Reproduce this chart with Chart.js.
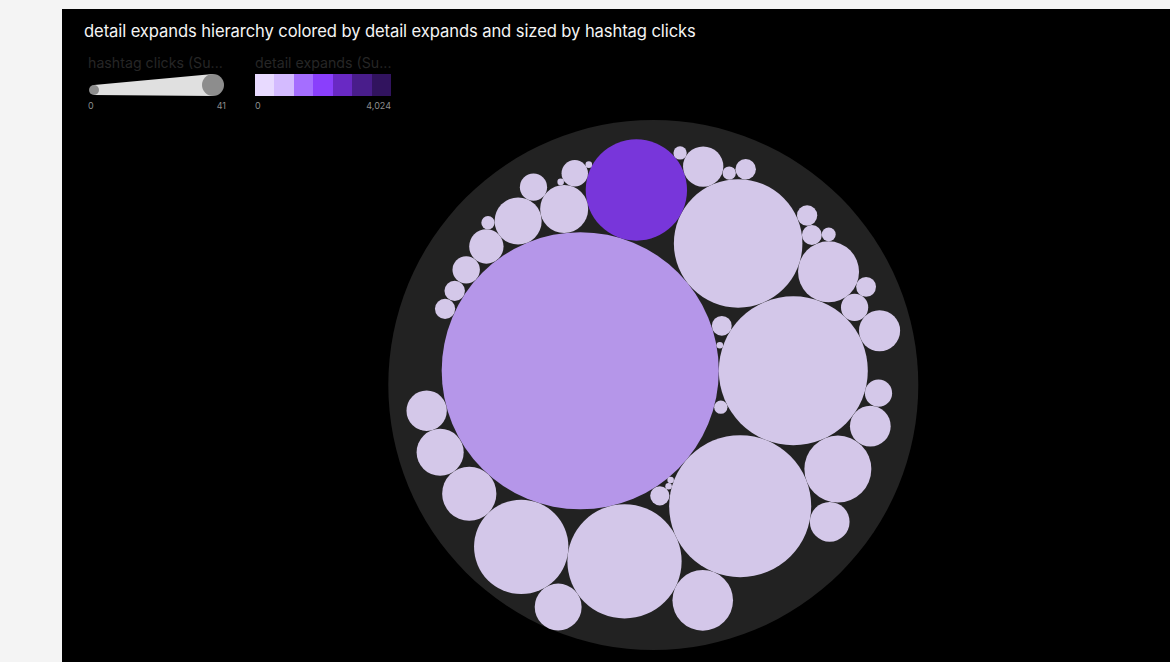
<!DOCTYPE html>
<html>
<head>
<meta charset="utf-8">
<script src="https://cdn.jsdelivr.net/npm/chart.js"></script>
<style>
  html, body { margin: 0; padding: 0; background: #f4f4f4; width: 1170px; height: 662px; overflow: hidden; }
  #panel { position: absolute; left: 62px; top: 9px; width: 1108px; height: 653px; background: #000; }
  #title { position: absolute; left: 84px; top: 21px; font-family: Inter, "Noto Sans", sans-serif; font-size: 16.6px; color: #f4f4f4; white-space: nowrap; letter-spacing: -0.1px; }
  .lgTitle { position: absolute; top: 54px; font-family: Inter, "Noto Sans", sans-serif; font-size: 14.2px; color: #262626; white-space: nowrap; }
  .tick { position: absolute; top: 100px; font-family: Inter, "Noto Sans", sans-serif; font-size: 9px; color: #8d8d8d; white-space: nowrap; }
  #swatches { position: absolute; left: 255px; top: 74px; width: 136px; height: 22px; display: flex; }
  #swatches div { flex: 1; height: 100%; }
  #sizeLegend { position: absolute; left: 86px; top: 70px; }
  #chartBox { position: absolute; left: 0; top: 0; width: 1170px; height: 662px; }
  #err { position: absolute; left: 70px; top: 600px; color: #f33; font: 11px monospace; }
</style>
</head>
<body>
<div id="panel"></div>
<div id="title">detail expands hierarchy colored by detail expands and sized by hashtag clicks</div>
<div class="lgTitle" id="sizeTitle" style="left:88px"></div>
<div class="lgTitle" id="colorTitle" style="left:255px"></div>
<svg id="sizeLegend" width="142" height="30"></svg>
<div class="tick" id="sizeMin" style="left:88px"></div>
<div class="tick" id="sizeMax" style="left:186px;width:40px;text-align:right"></div>
<div id="swatches"></div>
<div class="tick" id="colorMin" style="left:255px"></div>
<div class="tick" id="colorMax" style="left:331px;width:60px;text-align:right"></div>
<div id="chartBox"><canvas id="chart" width="1170" height="662"></canvas></div>
<div id="err"></div>
<script>
window.onerror = function (m) { document.getElementById('err').textContent = String(m); };
// ---------------- data (in data order) ----------------
const categories = [
  'item 01','item 02','item 03','item 04','item 05','item 06','item 07','item 08','item 09','item 10',
  'item 11','item 12','item 13','item 14','item 15','item 16','item 17','item 18','item 19','item 20',
  'item 21','item 22','item 23','item 24','item 25','item 26','item 27','item 28','item 29','item 30',
  'item 31','item 32','item 33','item 34','item 35','item 36','item 37','item 38','item 39','item 40',
  'item 41','item 42','item 43','item 44'
];
const hashtagClicks = [
  41.0000, 11.85108, 0.094577, 0.022944, 0.210686, 10.77079, 8.81950, 5.47994, 0.022944, 0.022944,
  0.198234, 6.96580, 1.98569, 2.39273, 1.231212, 4.75360, 0.868215, 1.18340, 1.959906, 1.570221,
  0.395436, 0.210686, 0.630562, 0.372682, 0.885407, 0.842744, 0.401230, 0.395436, 0.094577, 1.18340,
  0.902768, 0.219198, 0.094577, 0.223517, 1.173436, 0.022944, 0.395436, 0.103236, 0.022944, 0.219198,
  0.223517, 0.094577, 0.210686, 0.868215
];
const detailExpands = [
  880, 24, 3, 0, 6, 31, 18, 2180, 1, 0,
  5, 22, 12, 15, 9, 17, 7, 10, 13, 11,
  4, 3, 8, 4, 7, 6, 4, 5, 2, 9,
  6, 3, 2, 4, 10, 0, 3, 2, 1, 3,
  4, 2, 3, 7
];
const sizeLegendTitle = 'hashtag clicks (Su...';
const colorLegendTitle = 'detail expands (Su...';
const sizeTicks = ['0', '41'];
const colorTicks = ['0', '4,024'];
const colorDomain = [0, 4024];
const palette = ['#e8daff', '#d4bbff', '#a56eff', '#8a3ffc', '#6929c4', '#491d8b', '#31135e'];

// ---------------- legends (HTML) ----------------
document.getElementById('sizeTitle').textContent = sizeLegendTitle;
document.getElementById('colorTitle').textContent = colorLegendTitle;
document.getElementById('sizeMin').textContent = sizeTicks[0];
document.getElementById('sizeMax').textContent = sizeTicks[1];
document.getElementById('colorMin').textContent = colorTicks[0];
document.getElementById('colorMax').textContent = colorTicks[1];
const sw = document.getElementById('swatches');
palette.forEach(c => { const d = document.createElement('div'); d.style.background = c; sw.appendChild(d); });
document.getElementById('sizeLegend').innerHTML =
  '<polygon points="8,15 127,4 127,26 8,25" fill="#e0e0e0"/>' +
  '<circle cx="8" cy="20" r="5" fill="#8d8d8d"/>' +
  '<circle cx="127" cy="15" r="11" fill="#8d8d8d"/>';

// ---------------- colour scale ----------------
function hex(c) { return [parseInt(c.slice(1,3),16), parseInt(c.slice(3,5),16), parseInt(c.slice(5,7),16)]; }
function colorFor(v) {
  const t = Math.max(0, Math.min(1, (v - colorDomain[0]) / (colorDomain[1] - colorDomain[0]))) * (palette.length - 1);
  const i = Math.min(palette.length - 2, Math.floor(t)), f = t - i;
  const a = hex(palette[i]), b = hex(palette[i + 1]);
  const c = a.map((x, k) => Math.round(x + (b[k] - x) * f));
  return 'rgba(' + c[0] + ',' + c[1] + ',' + c[2] + ',0.9)';
}

// ---------------- circle packing (front-chain sibling packing) ----------------
function place(b, a, c) {
  var dx = b.x - a.x, x, a2, dy = b.y - a.y, y, b2, d2 = dx * dx + dy * dy;
  if (d2) {
    a2 = a.r + c.r; a2 *= a2; b2 = b.r + c.r; b2 *= b2;
    if (a2 > b2) { x = (d2 + b2 - a2) / (2 * d2); y = Math.sqrt(Math.max(0, b2 / d2 - x * x)); c.x = b.x - x * dx - y * dy; c.y = b.y - x * dy + y * dx; }
    else { x = (d2 + a2 - b2) / (2 * d2); y = Math.sqrt(Math.max(0, a2 / d2 - x * x)); c.x = a.x + x * dx - y * dy; c.y = a.y + x * dy + y * dx; }
  } else { c.x = a.x + c.r; c.y = a.y; }
}
function intersects(a, b) { var dr = a.r + b.r - 1e-6, dx = b.x - a.x, dy = b.y - a.y; return dr > 0 && dr * dr > dx * dx + dy * dy; }
function score(node) { var a = node._, b = node.next._, ab = a.r + b.r, dx = (a.x * b.r + b.x * a.r) / ab, dy = (a.y * b.r + b.y * a.r) / ab; return dx * dx + dy * dy; }
function packSiblings(circles) {
  var a, b, c, n = circles.length, aa, ca, i, j, k, sj, sk;
  a = circles[0]; a.x = 0; a.y = 0; if (n < 2) return;
  b = circles[1]; a.x = -b.r; b.x = a.r; b.y = 0; if (n < 3) return;
  place(b, a, c = circles[2]);
  a = {_: a}; b = {_: b}; c = {_: c};
  a.next = c.previous = b; b.next = a.previous = c; c.next = b.previous = a;
  pack: for (i = 3; i < n; ++i) {
    place(a._, b._, c = circles[i]); c = {_: c};
    j = b.next; k = a.previous; sj = b._.r; sk = a._.r;
    do {
      if (sj <= sk) { if (intersects(j._, c._)) { b = j; a.next = b; b.previous = a; --i; continue pack; } sj += j._.r; j = j.next; }
      else { if (intersects(k._, c._)) { a = k; a.next = b; b.previous = a; --i; continue pack; } sk += k._.r; k = k.previous; }
    } while (j !== k.next);
    c.previous = a; c.next = b; a.next = b.previous = b = c;
    aa = score(a);
    while ((c = c.next) !== b) { if ((ca = score(c)) < aa) { a = c; aa = ca; } }
    b = a.next;
  }
}
const nodes = hashtagClicks.map((v, i) => ({ i, r: Math.sqrt(v), x: 0, y: 0 }));
packSiblings(nodes);
let x0 = Infinity, x1 = -Infinity, y0 = Infinity, y1 = -Infinity;
nodes.forEach(n => { x0 = Math.min(x0, n.x - n.r); x1 = Math.max(x1, n.x + n.r); y0 = Math.min(y0, n.y - n.r); y1 = Math.max(y1, n.y + n.r); });
const cx = (x0 + x1) / 2, cy = (y0 + y1) / 2;
let rootR = 0;
nodes.forEach(n => { n.x -= cx; n.y -= cy; rootR = Math.max(rootR, n.r + Math.hypot(n.x, n.y)); });

// ---------------- chart ----------------
const AREA = 530;                       // square plot area (px) set by the layout padding below
const pxPerUnit = AREA / (2 * rootR);
new Chart(document.getElementById('chart'), {
  type: 'bubble',
  data: {
    datasets: [
      {
        label: 'detail expands',
        order: 1,
        data: nodes.map(n => ({ x: n.x, y: n.y, r: n.r * pxPerUnit })),
        backgroundColor: nodes.map(n => colorFor(detailExpands[n.i])),
        borderWidth: 0,
        hoverRadius: 0,
        clip: false
      },
      {
        label: 'root',
        order: 2,
        data: [{ x: 0, y: 0, r: rootR * pxPerUnit }],
        backgroundColor: '#222222',
        borderWidth: 0,
        hoverRadius: 0,
        clip: false
      }
    ]
  },
  options: {
    responsive: false,
    maintainAspectRatio: false,
    animation: false,
    events: [],
    layout: { autoPadding: false, padding: { left: 388.3, right: 251.7, top: 120, bottom: 12 } },
    scales: {
      x: { type: 'linear', min: -rootR, max: rootR, display: false },
      y: { type: 'linear', min: -rootR, max: rootR, reverse: true, display: false }
    },
    plugins: { legend: { display: false }, tooltip: { enabled: false } }
  }
});
</script>
</body>
</html>
